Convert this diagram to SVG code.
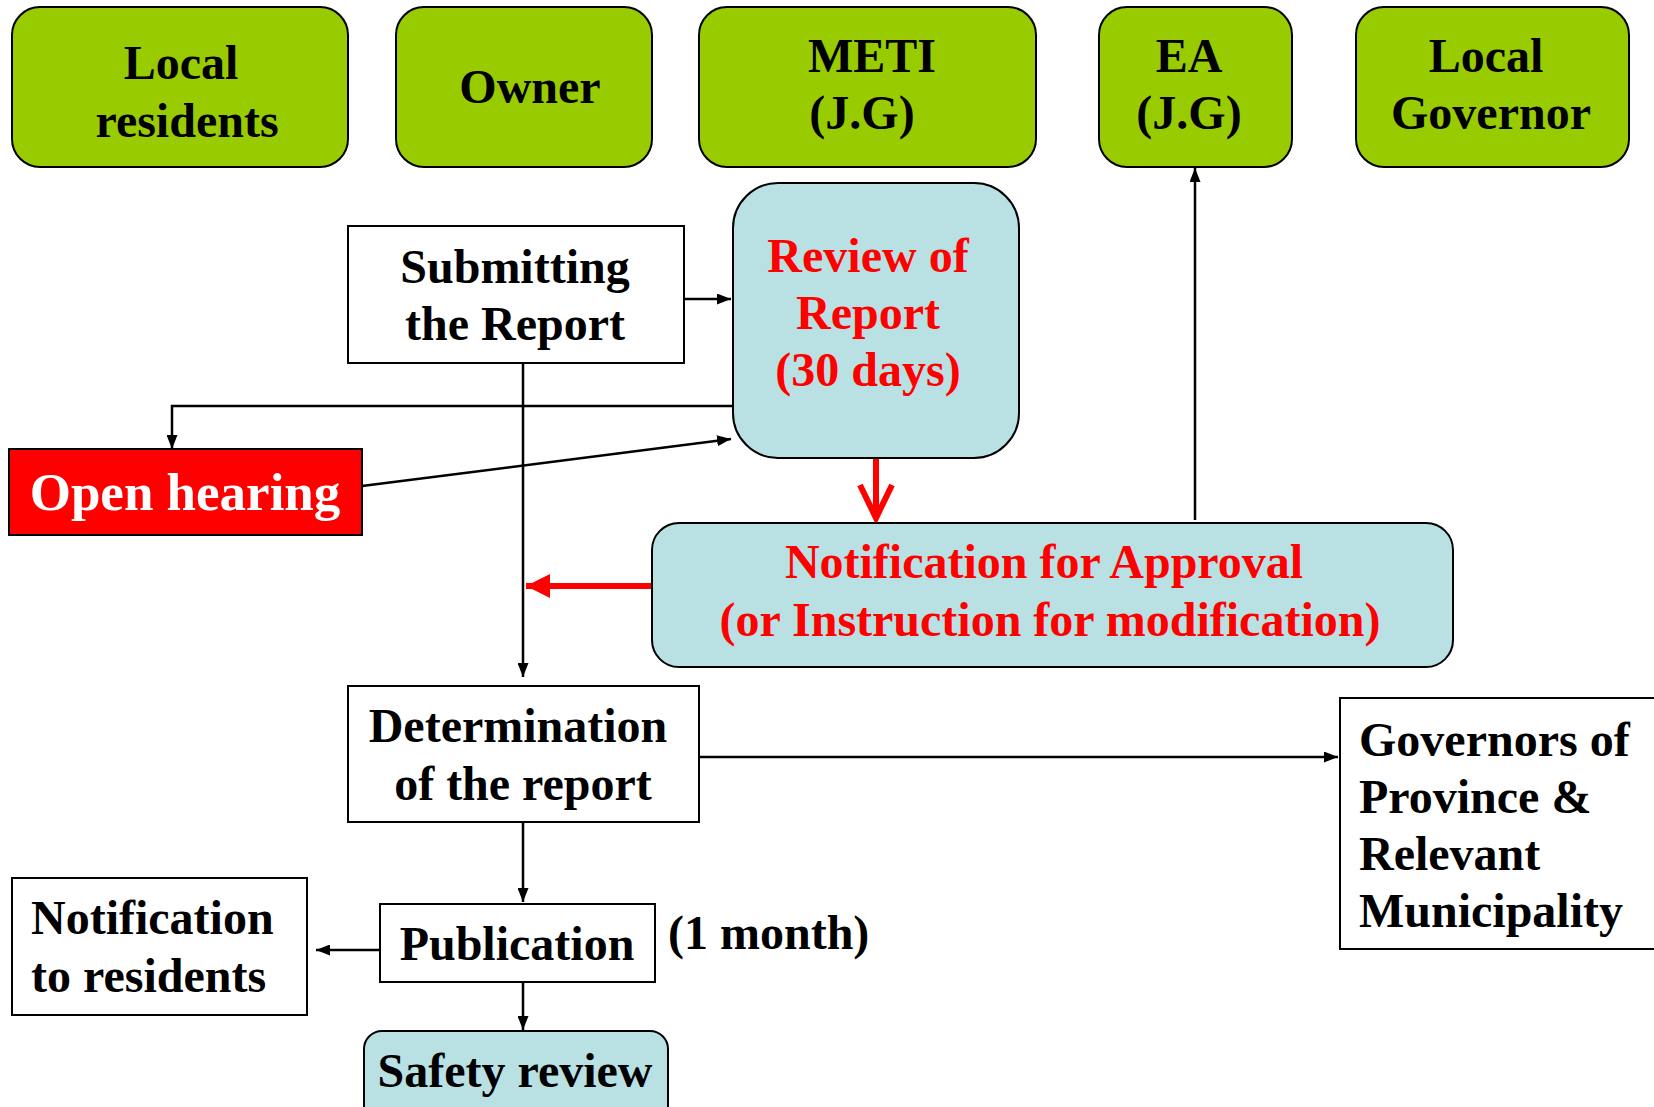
<svg xmlns="http://www.w3.org/2000/svg" width="1654" height="1107" viewBox="0 0 1654 1107">
<defs>
<style>
.t{font-family:"Liberation Serif","Times New Roman",serif;font-weight:bold;font-size:48px;fill:#000}
.c{text-anchor:middle}
.r{fill:#ff0000}
.w{fill:#ffffff}
.green{fill:#99cc00;stroke:#000;stroke-width:2}
.blue{fill:#b9e0e3;stroke:#000;stroke-width:2}
.plain{fill:#fff;stroke:#000;stroke-width:2}
.ln{fill:none;stroke:#000;stroke-width:2.5}
.rl{fill:none;stroke:#ff0000;stroke-width:6}
</style>
<marker id="ah" viewBox="0 0 14 11" refX="14" refY="5.5" markerWidth="14" markerHeight="11" markerUnits="userSpaceOnUse" orient="auto">
<path d="M0,0 L14,5.5 L0,11 z" fill="#000"/>
</marker>
<marker id="rah" viewBox="0 0 24 24" refX="24" refY="12" markerWidth="24" markerHeight="24" markerUnits="userSpaceOnUse" orient="auto">
<path d="M0,0 L24,12 L0,24 z" fill="#ff0000"/>
</marker>
</defs>

<g id="local-residents">
<rect class="green" x="12" y="7" width="336" height="160" rx="28"/>
<text class="t c" x="181" y="79">Local</text>
<text class="t c" x="187" y="137">residents</text>
</g>
<g id="owner">
<rect class="green" x="396" y="7" width="256" height="160" rx="28"/>
<text class="t c" x="530" y="103">Owner</text>
</g>
<g id="meti">
<rect class="green" x="699" y="7" width="337" height="160" rx="28"/>
<text class="t c" x="872" y="72">METI</text>
<text class="t c" x="862" y="129">(J.G)</text>
</g>
<g id="ea">
<rect class="green" x="1099" y="7" width="193" height="160" rx="28"/>
<text class="t c" x="1189" y="72">EA</text>
<text class="t c" x="1189" y="129">(J.G)</text>
</g>
<g id="local-governor">
<rect class="green" x="1356" y="7" width="273" height="160" rx="28"/>
<text class="t c" x="1486" y="72">Local</text>
<text class="t c" x="1491" y="129">Governor</text>
</g>

<g id="connectors">
<line class="ln" x1="684" y1="299" x2="731" y2="299" marker-end="url(#ah)"/>
<polyline class="ln" points="733,406 172,406 172,449" marker-end="url(#ah)"/>
<line class="ln" x1="362" y1="486" x2="731" y2="439" marker-end="url(#ah)"/>
<line class="ln" x1="523" y1="363" x2="523" y2="677" marker-end="url(#ah)"/>
<line class="rl" x1="876" y1="458" x2="876" y2="515" stroke-width="5"/>
<polyline points="860,485 876,518 892,485" fill="none" stroke="#ff0000" stroke-width="6" stroke-linejoin="miter"/>
<line class="rl" x1="652" y1="586" x2="526" y2="586" marker-end="url(#rah)"/>
<line class="ln" x1="1195" y1="520" x2="1195" y2="168" marker-end="url(#ah)"/>
<line class="ln" x1="699" y1="757" x2="1338" y2="757" marker-end="url(#ah)"/>
<line class="ln" x1="523" y1="822" x2="523" y2="902" marker-end="url(#ah)"/>
<line class="ln" x1="380" y1="950" x2="316" y2="950" marker-end="url(#ah)"/>
<line class="ln" x1="523" y1="982" x2="523" y2="1030" marker-end="url(#ah)"/>
</g>

<g id="submitting">
<rect class="plain" x="348" y="226" width="336" height="137"/>
<text class="t c" x="515" y="283">Submitting</text>
<text class="t c" x="515" y="340">the Report</text>
</g>
<g id="review">
<rect class="blue" x="733" y="183" width="286" height="275" rx="45"/>
<text class="t c r" x="868" y="272">Review of</text>
<text class="t c r" x="868" y="329">Report</text>
<text class="t c r" x="868" y="386">(30 days)</text>
</g>
<g id="open-hearing">
<rect x="9" y="449" width="353" height="86" fill="#ff0000" stroke="#000" stroke-width="2"/>
<text class="t c w" x="185" y="510" style="font-size:53px">Open hearing</text>
</g>
<g id="notification-approval">
<rect class="blue" x="652" y="523" width="801" height="144" rx="27"/>
<text class="t c r" x="1044" y="578">Notification for Approval</text>
<text class="t c r" x="1050" y="636">(or Instruction for modification)</text>
</g>
<g id="determination">
<rect class="plain" x="348" y="686" width="351" height="136"/>
<text class="t c" x="518" y="742">Determination</text>
<text class="t c" x="523" y="800">of the report</text>
</g>
<g id="governors">
<rect class="plain" x="1340" y="698" width="330" height="251"/>
<text class="t" x="1359" y="756">Governors of</text>
<text class="t" x="1359" y="813">Province &amp;</text>
<text class="t" x="1359" y="870">Relevant</text>
<text class="t" x="1359" y="927">Municipality</text>
</g>
<g id="publication">
<rect class="plain" x="380" y="904" width="275" height="78"/>
<text class="t c" x="517" y="960">Publication</text>
</g>
<g id="one-month">
<text class="t" x="668" y="949">(1 month)</text>
</g>
<g id="notification-residents">
<rect class="plain" x="12" y="878" width="295" height="137"/>
<text class="t" x="31" y="934">Notification</text>
<text class="t" x="31" y="992">to residents</text>
</g>
<g id="safety-review">
<rect class="blue" x="364" y="1031" width="304" height="100" rx="18"/>
<text class="t c" x="515" y="1087">Safety review</text>
</g>
</svg>
